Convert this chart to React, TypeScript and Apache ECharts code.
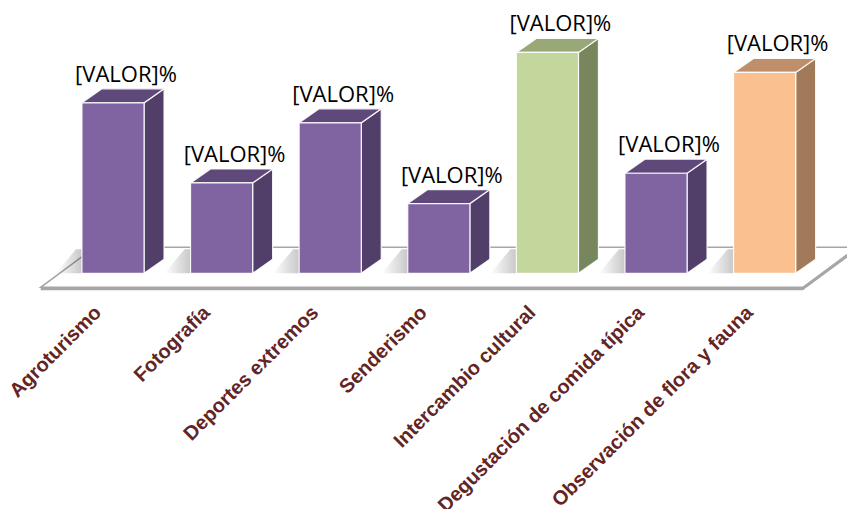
import React, { useEffect, useRef } from "react";
import * as echarts from "echarts";

const categories = [
  "Agroturismo",
  "Fotografía",
  "Deportes extremos",
  "Senderismo",
  "Intercambio cultural",
  "Degustación de comida típica",
  "Observación de flora y fauna",
];
const values = [24.7, 13.1, 21.8, 10.1, 32, 14.5, 29.1];
const valueLabels = ["[VALOR]%", "[VALOR]%", "[VALOR]%", "[VALOR]%", "[VALOR]%", "[VALOR]%", "[VALOR]%"];

// styles (front, side, top) per bar
const purple = { front: "#8064A2", side: "#513F69", top: "#5F497A" };
const green = { front: "#C3D69B", side: "#77865C", top: "#98A877" };
const orange = { front: "#FAC090", side: "#A07A59", top: "#BF8F6C" };
const barStyles = [purple, purple, purple, purple, green, purple, orange];

export default function App() {
  const ref = useRef<HTMLDivElement>(null);
  useEffect(() => {
    const chart = echarts.init(ref.current!, null, { renderer: "svg" });
    const renderItem = (params: any, api: any) => {
      const idx = params.dataIndex;
      const base = api.coord([api.value(0), 0]);
      const topP = api.coord([api.value(0), api.value(1)]);
      const band = api.size([1, 0])[0];
      const w = band * 0.572;
      const dx = band * 0.184;
      const dy = 14;
      const cx = base[0];
      const x0 = cx - w / 2;
      const x1 = cx + w / 2;
      const yb = base[1];
      const yt = topP[1];
      const st = barStyles[idx];
      const edge = { stroke: "rgba(255,255,255,0.9)", lineWidth: 1.2 };
      const children: any[] = [];
      if (idx === 0) {
        const cs = params.coordSys;
        const fy = yb + 14;
        const by = yb - 26;
        const fl = cs.x - 18;
        const fr = cs.x + cs.width - 16;
        const ddx = 54;
        children.push({
          type: "polygon",
          z2: 0,
          shape: { points: [[fl, fy + 3], [fr, fy + 3], [fr + ddx, by + 3], [fr + ddx, by], [fr, fy], [fl, fy]] },
          style: { fill: "#A6A6A6" },
        });
        children.push({
          type: "polygon",
          z2: 1,
          shape: { points: [[fl, fy], [fr, fy], [fr + ddx, by], [fl + ddx, by]] },
          style: { fill: "#FFFFFF", stroke: "#A6A6A6", lineWidth: 1.5 },
        });
      }
      // shadow on floor, left of bar
      children.push({
        type: "polygon",
        z2: 2,
        shape: { points: [[x0 - 26, yb], [x0 + 2, yb], [x0 + 2 + dx, yb - 24], [x0 - 26 + dx, yb - 24]] },
        style: {
          fill: new echarts.graphic.LinearGradient(0, 0, 1, 0, [
            { offset: 0, color: "rgba(0,0,0,0)" },
            { offset: 1, color: "rgba(0,0,0,0.4)" },
          ]),
        },
      });
      children.push({
        type: "polygon",
        z2: 3,
        shape: { points: [[x1, yt], [x1 + dx, yt - dy], [x1 + dx, yb - dy], [x1, yb]] },
        style: { fill: st.side, ...edge },
      });
      children.push({
        type: "polygon",
        z2: 3,
        shape: { points: [[x0, yt], [x0 + dx, yt - dy], [x1 + dx, yt - dy], [x1, yt]] },
        style: { fill: st.top, ...edge },
      });
      children.push({
        type: "rect",
        z2: 4,
        shape: { x: x0, y: yt, width: w, height: yb - yt },
        style: { fill: st.front, ...edge },
      });
      children.push({
        type: "text",
        z2: 10,
        style: {
          text: valueLabels[idx],
          x: cx + 13,
          y: yt - dy - 5,
          align: "center",
          verticalAlign: "bottom",
          fontFamily: "Open Sans",
          fontSize: 22,
          fill: "#000000",
        },
      });
      return { type: "group", children };
    };
    chart.setOption({
      animation: false,
      grid: { left: 58.7, right: 28.1, top: 0, bottom: 235.7, outerBoundsMode: "none", containLabel: false },
      xAxis: {
        type: "category",
        data: categories,
        axisLine: { show: false },
        axisTick: { show: false },
        splitLine: { show: false },
        axisLabel: {
          interval: 0,
          rotate: 45,
          margin: 20,
          padding: [0, 22, 0, 0],
          color: "#632523",
          fontFamily: "Liberation Sans",
          fontWeight: "bold",
          fontSize: 20,
        },
      },
      yAxis: { type: "value", min: 0, max: 39.6, show: false, splitLine: { show: false } },
      series: [
        {
          type: "custom",
          clip: false,
          renderItem,
          encode: { x: 0, y: 1 },
          data: values.map((v, i) => [i, v]),
        },
      ],
    });
    return () => chart.dispose();
  }, []);
  return <div ref={ref} style={{ position: "absolute", left: 0, top: 0, width: 847, height: 509 }} />;
}
